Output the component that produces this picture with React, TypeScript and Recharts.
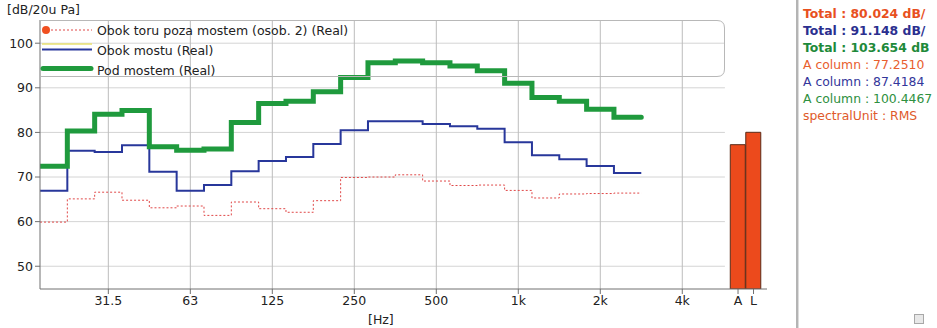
import React from 'react';
import { ComposedChart, Line, Bar, XAxis, YAxis, ReferenceLine } from 'recharts';

// third-octave bands shown on the chart (20 Hz .. 2.5 kHz)
const bands = ['20', '25', '31.5', '40', '50', '63', '80', '100', '125', '160', '200', '250', '315', '400', '500', '630', '800', '1k', '1.25k', '1.6k', '2k', '2.5k'];

// levels in dB per band
const obokToru = [59.9, 65.1, 66.6, 64.8, 63.1, 63.5, 61.4, 64.4, 62.9, 62.1, 64.7, 69.9, 70.0, 70.5, 69.1, 68.1, 68.2, 67.0, 65.3, 66.2, 66.3, 66.4];
const obokMostu = [66.9, 75.9, 75.6, 77.1, 71.2, 66.9, 68.2, 71.3, 73.6, 74.5, 77.4, 80.5, 82.5, 82.5, 81.9, 81.4, 80.8, 77.8, 74.9, 74.0, 72.5, 70.9];
const podMostem = [72.4, 80.3, 84.1, 84.9, 76.8, 76.0, 76.3, 82.2, 86.5, 87.0, 89.1, 92.3, 95.6, 96.0, 95.6, 94.9, 93.8, 91.0, 87.8, 87.0, 85.2, 83.4];

// octave labels on the frequency axis
const octaveLabels = ['31.5', '63', '125', '250', '500', '1k', '2k', '4k'];

// weighted totals (A, L)
const totalLabels = ['A', 'L'];
const totalValues = [77.251, 80.024];

const yTicks = [50, 60, 70, 80, 90, 100];

const sideText = [
  { text: 'Total : 80.024 dB/', color: '#e8501e', bold: true },
  { text: 'Total : 91.148 dB/', color: '#2b2f8f', bold: true },
  { text: 'Total : 103.654 dB', color: '#1e8a3a', bold: true },
  { text: 'A column : 77.2510', color: '#e8602e', bold: false },
  { text: 'A column : 87.4184', color: '#33369a', bold: false },
  { text: 'A column : 100.4467', color: '#2e9040', bold: false },
  { text: 'spectralUnit : RMS', color: '#e05a2a', bold: false },
];

const FONT = '"DejaVu Sans", Verdana, sans-serif';
const TOTAL_START = 25.54; // position of first total column, in band units
const TOTAL_STEP = 0.567;
const GRID_END = 25.06;

const RED = '#e04848';
const BLUE = '#28379b';
const GREEN = '#1f9a3d';

const rows: any[] = [];
for (let k = 0; k <= bands.length; k++) {
  const i = Math.min(k, bands.length - 1);
  rows.push({ x: k, toru: obokToru[i], mostu: obokMostu[i], pod: podMostem[i] });
}
totalValues.forEach((v, i) => rows.push({ x: TOTAL_START + i * TOTAL_STEP, total: v }));

const octavePos = octaveLabels.map((_, i) => 2.5 + 3 * i);
const totalPos = totalLabels.map((_, i) => TOTAL_START + i * TOTAL_STEP);
const xTicks = [...octavePos, ...totalPos];

const tickLabel = (v: number) => {
  const oi = octavePos.findIndex(p => Math.abs(p - v) < 0.01);
  if (oi >= 0) return octaveLabels[oi];
  const ti = totalPos.findIndex(p => Math.abs(p - v) < 0.01);
  return ti >= 0 ? totalLabels[ti] : '';
};

function LegendBox() {
  return (
    <svg width={690} height={60} style={{ position: 'absolute', left: 40, top: 19, overflow: 'visible' }}>
      <path d="M0.5 1.5 H677 Q684.5 1.5 684.5 9 V50 Q684.5 57.5 677 57.5 H0.5" fill="none" stroke="#b8b8b8" />
      <circle cx={6} cy={11} r={4} fill="#f05020" />
      <line x1={11} y1={11} x2={52} y2={11} stroke={RED} strokeDasharray="2 2" />
      <text x={57} y={16} fontSize={12.5} fontFamily={FONT} fill="#222">Obok toru poza mostem (osob. 2) (Real)</text>
      <line x1={2} y1={25} x2={52} y2={25} stroke="#e8e070" strokeWidth={1.5} />
      <line x1={2} y1={30.5} x2={52} y2={30.5} stroke={BLUE} strokeWidth={2} />
      <text x={57} y={36} fontSize={12.5} fontFamily={FONT} fill="#222">Obok mostu (Real)</text>
      <line x1={3} y1={49.5} x2={51} y2={49.5} stroke={GREEN} strokeWidth={5} strokeLinecap="round" />
      <text x={57} y={56} fontSize={12.5} fontFamily={FONT} fill="#222">Pod mostem (Real)</text>
    </svg>
  );
}

export default function App() {
  return (
    <div style={{ position: 'absolute', left: 0, top: 0, width: 937, height: 328, background: '#fff', fontFamily: FONT, overflow: 'hidden' }}>
      <ComposedChart width={770} height={328} data={rows} margin={{ top: 20, right: 3, bottom: 0, left: 0 }}>
        <XAxis
          type="number"
          dataKey="x"
          domain={[0, 26.6]}
          ticks={xTicks}
          tickFormatter={tickLabel}
          allowDataOverflow
          height={39}
          tickSize={5}
          interval={0}
          stroke="#707070"
          tick={{ fill: '#222', fontSize: 12.5, fontFamily: FONT }}
        />
        <YAxis
          type="number"
          domain={[44.9, 105.2]}
          ticks={yTicks}
          allowDataOverflow
          width={40}
          tickSize={5}
          stroke="#707070"
          tick={{ fill: '#222', fontSize: 12.5, fontFamily: FONT }}
        />
        {yTicks.map(v => (
          <ReferenceLine key={'h' + v} segment={[{ x: 0, y: v }, { x: GRID_END, y: v }]} stroke="#d4d4d4" />
        ))}
        {octavePos.map(p => (
          <ReferenceLine key={'v' + p} x={p} stroke="#bcbcbc" />
        ))}
        <Line type="stepAfter" dataKey="toru" stroke={RED} strokeWidth={1} strokeDasharray="2 2" dot={false} isAnimationActive={false} />
        <Line type="stepAfter" dataKey="mostu" stroke={BLUE} strokeWidth={2} dot={false} isAnimationActive={false} />
        <Line type="stepAfter" dataKey="pod" stroke={GREEN} strokeWidth={5} strokeLinecap="round" dot={false} isAnimationActive={false} />
        <Bar dataKey="total" barSize={15} fill="#ec4a1c" stroke="#5b2b18" strokeWidth={1} isAnimationActive={false} />
      </ComposedChart>
      <div style={{ position: 'absolute', left: 7, top: 2, fontSize: 12.5, color: '#222' }}>[dB/20u Pa]</div>
      <div style={{ position: 'absolute', left: 368, top: 312, fontSize: 12.5, color: '#222' }}>[Hz]</div>
      <LegendBox />
      <div style={{ position: 'absolute', left: 796, top: 0, width: 2, height: 328, background: '#b4b4b4', borderRight: '1px solid #dcdcdc' }} />
      <div style={{ position: 'absolute', left: 803, top: 5 }}>
        {sideText.map(s => (
          <div key={s.text} style={{ color: s.color, fontWeight: s.bold ? 'bold' : 'normal', fontSize: 12.4, lineHeight: '17px', whiteSpace: 'nowrap' }}>
            {s.text}
          </div>
        ))}
      </div>
      <div style={{ position: 'absolute', left: 914, top: 314, width: 8, height: 8, background: '#e8e8e8', border: '1px solid #a8a8a8' }} />
    </div>
  );
}
